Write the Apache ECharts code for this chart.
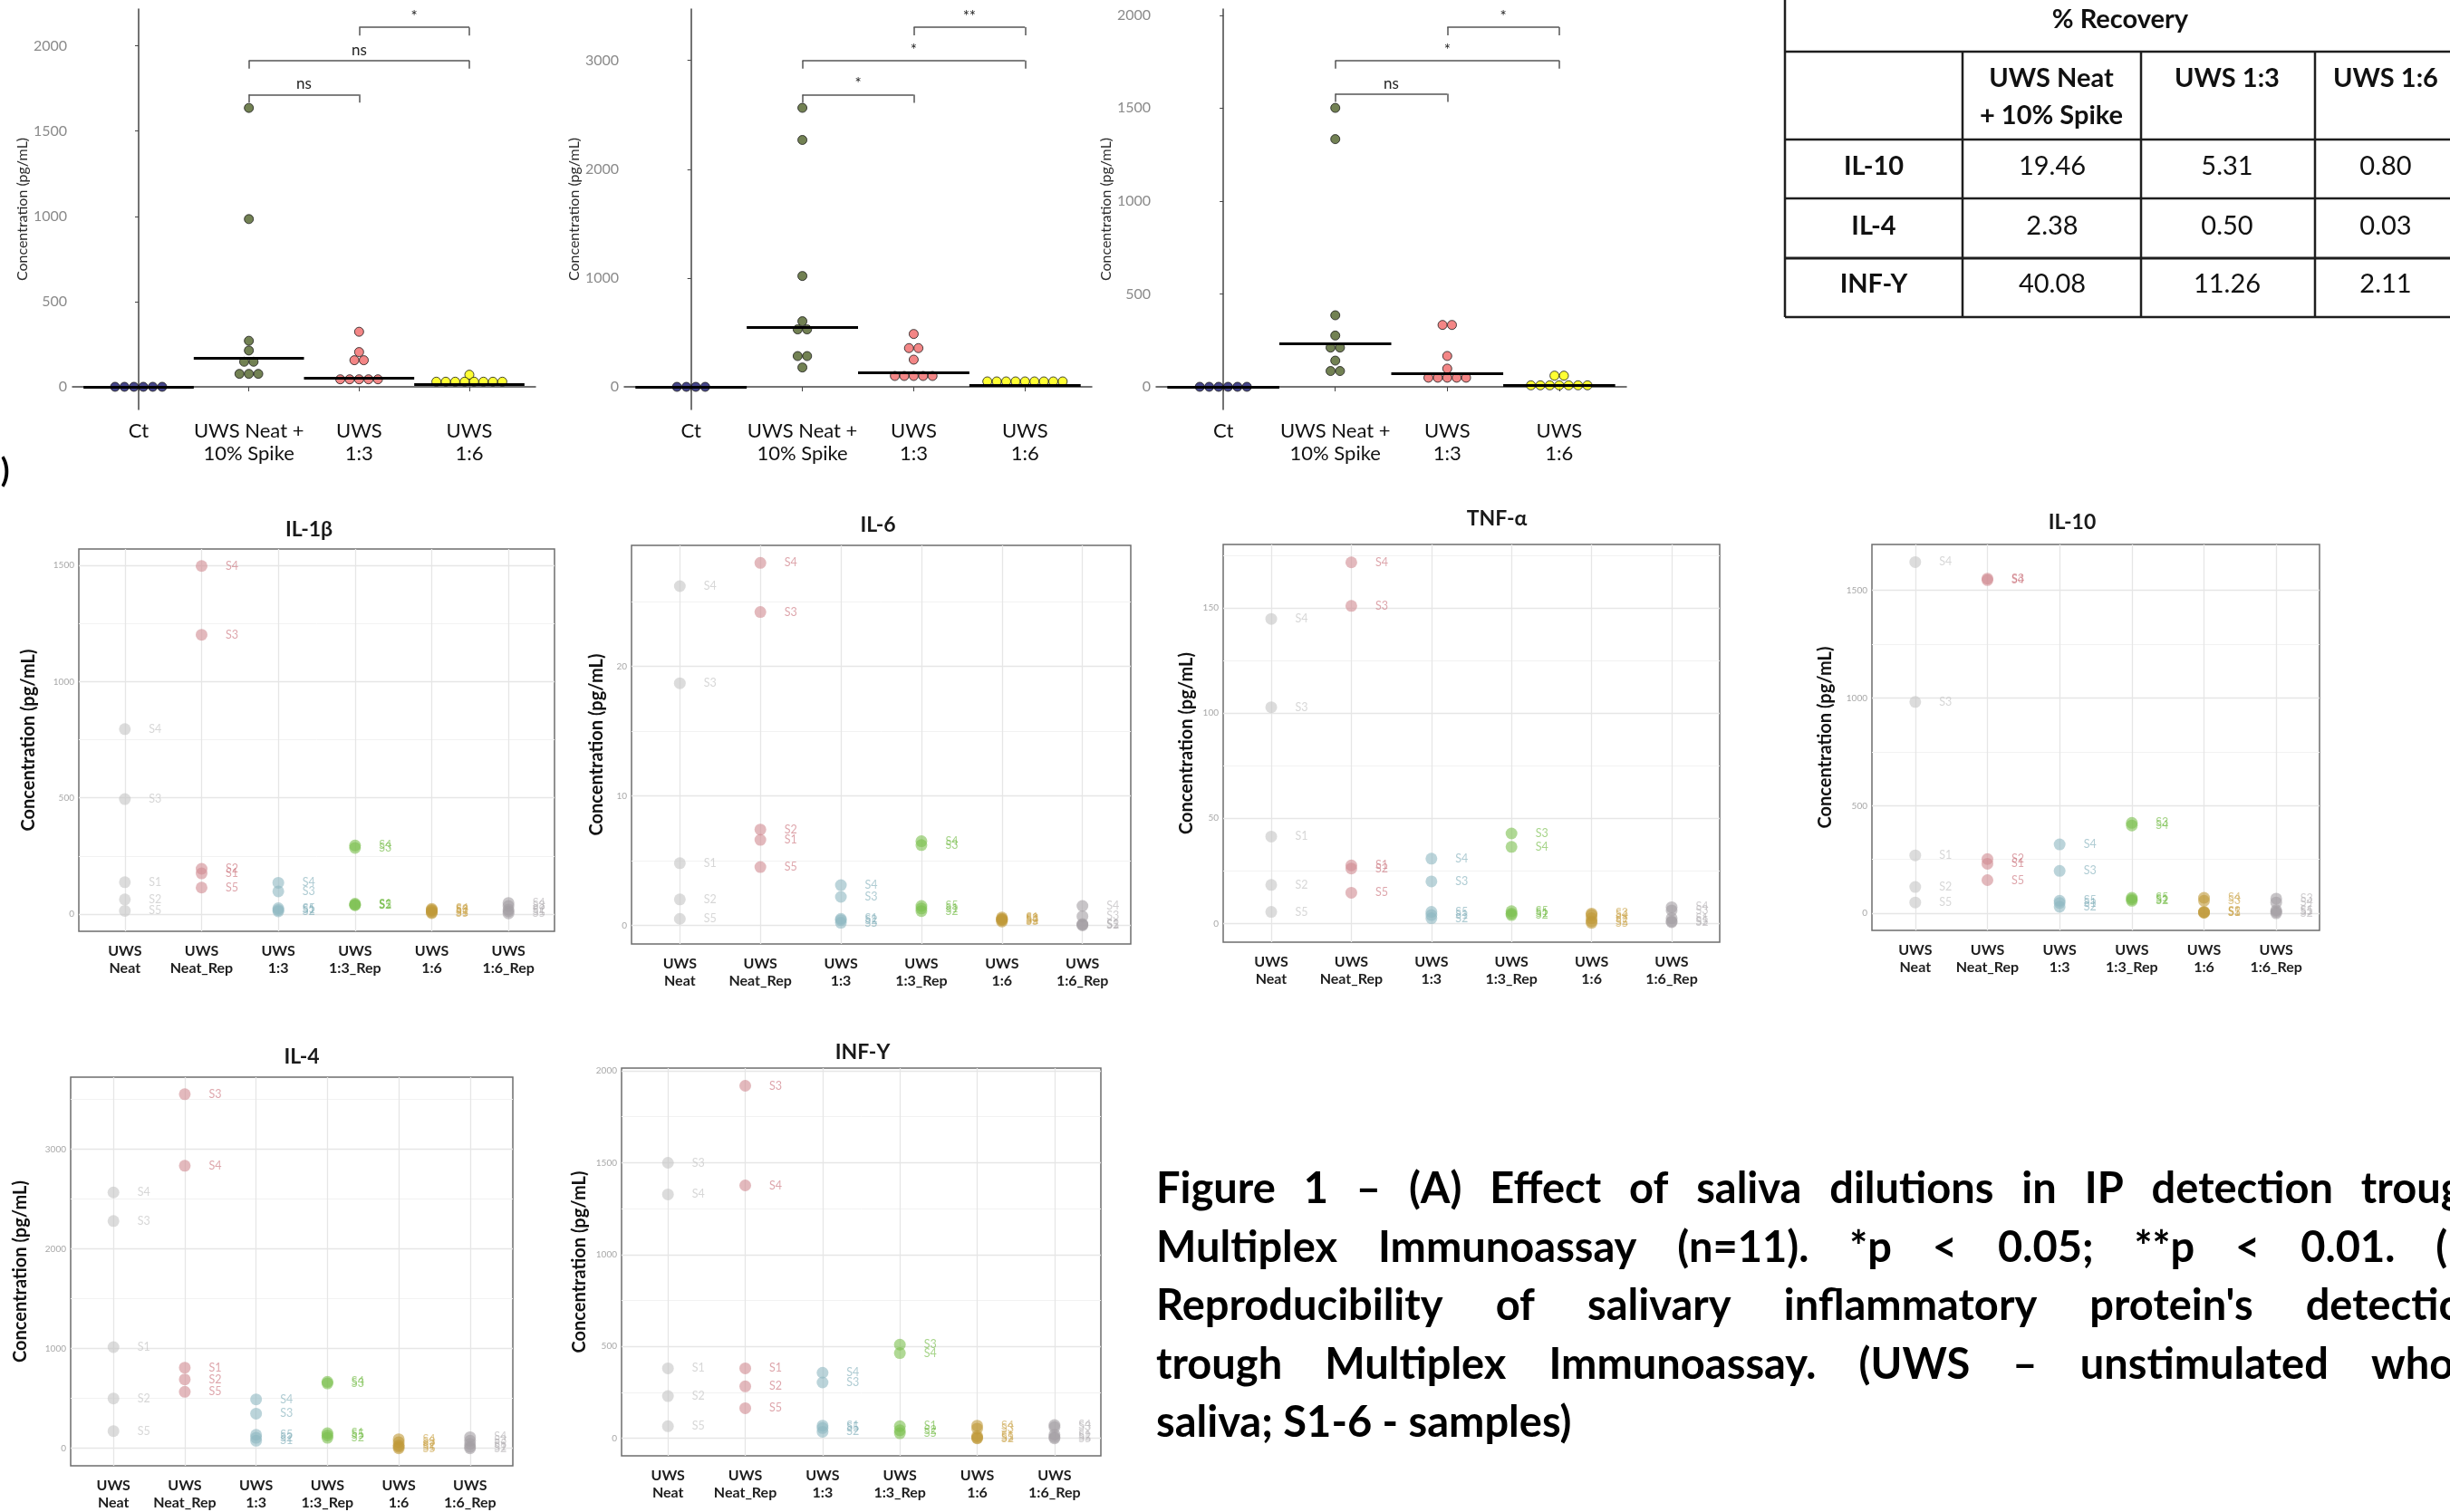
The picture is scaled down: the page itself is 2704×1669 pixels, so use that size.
<!DOCTYPE html>
<html>
<head>
<meta charset="utf-8">
<script src="https://cdn.jsdelivr.net/npm/echarts@6/dist/echarts.min.js"></script>
<style>
html, body { margin: 0; padding: 0; background: #fff; }
#fig { width: 2704px; height: 1669px; }
</style>
</head>
<body>
<div id="fig"></div>
<script>
var FONT = 'Lato, "Open Sans", sans-serif';

// ---------- (A) spike / dilution dot plots ----------
var catsA = ['Ct', 'UWS Neat +\n10% Spike', 'UWS\n1:3', 'UWS\n1:6'];
var dotColors = ['#16166e', '#4f6228', '#f06868', '#ffff00'];

// IL-10
var aIl10Ct = [0, 0, 0, 0, 0, 0];
var aIl10Neat = [1636, 984, 270, 213, 147, 147, 76, 76, 76];
var aIl10Dil3 = [323, 204, 156, 156, 44, 44, 44, 44, 44];
var aIl10Dil6 = [71, 30, 30, 30, 30, 30, 30, 30, 30];
var aIl10Median = [0, 168, 50, 14];
var aIl10Stats = [[1, 2, 1715, 'ns'], [1, 3, 1915, 'ns'], [2, 3, 2109, '*']];
var aIl10Ticks = [0, 500, 1000, 1500, 2000];

// IL-4
var aIl4Ct = [0, 0, 0, 0];
var aIl4Neat = [2564, 2269, 1019, 603, 528, 528, 283, 283, 178];
var aIl4Dil3 = [486, 356, 356, 250, 100, 100, 100, 100, 100];
var aIl4Dil6 = [50, 50, 50, 50, 50, 50, 50, 50, 50];
var aIl4Median = [0, 550, 133, 17];
var aIl4Stats = [[1, 2, 2686, '*'], [1, 3, 3000, '*'], [2, 3, 3306, '**']];
var aIl4Ticks = [0, 1000, 2000, 3000];

// INF-Y
var aInfCt = [0, 0, 0, 0, 0, 0];
var aInfNeat = [1501, 1333, 385, 276, 211, 211, 141, 85, 85];
var aInfDil3 = [333, 333, 166, 98, 49, 49, 49, 49, 49];
var aInfDil6 = [60, 60, 8, 8, 8, 8, 8, 8, 8];
var aInfMedian = [0, 231, 72, 10];
var aInfStats = [[1, 2, 1577, 'ns'], [1, 3, 1756, '*'], [2, 3, 1935, '*']];
var aInfTicks = [0, 500, 1000, 1500, 2000];

// ---------- (B) reproducibility ----------
var catsB = ['UWS\nNeat', 'UWS\nNeat_Rep', 'UWS\n1:3', 'UWS\n1:3_Rep', 'UWS\n1:6', 'UWS\n1:6_Rep'];
var samples = ['S1', 'S2', 'S3', 'S4', 'S5'];
var groupColors = ['#c4c4c4', '#d08a91', '#8db8c1', '#7cc04f', '#bf9a38', '#a39fa3'];
var labelColors = ['#bdbdbd', '#c86a74', '#7aaab5', '#6ab83a', '#c9a245', '#b3afb3'];

// rows: Neat, Neat_Rep, 1:3, 1:3_Rep, 1:6, 1:6_Rep ; cols: S1..S5
var il1b = [
  [137, 63, 495, 796, 14],
  [175, 195, 1202, 1498, 114],
  [18, 12, 98, 135, 25],
  [45, 40, 285, 295, 38],
  [8, 14, 18, 22, 4],
  [12, 20, 35, 48, 3]
];
var il6 = [
  [4.8, 2.0, 18.7, 26.2, 0.5],
  [6.6, 7.4, 24.2, 28.0, 4.5],
  [0.5, 0.4, 2.2, 3.1, 0.2],
  [1.3, 1.1, 6.2, 6.5, 1.5],
  [0.6, 0.4, 0.5, 0.45, 0.3],
  [0.1, 0.05, 0.7, 1.5, 0]
];
var tnfa = [
  [41.3, 18.3, 102.8, 144.8, 5.5],
  [27.6, 26.1, 151, 171.7, 14.6],
  [4, 2.5, 20, 30.8, 5.5],
  [4.7, 4, 42.8, 36.4, 5.8],
  [2.5, 1, 4.7, 4, 0.3],
  [2.5, 0.6, 6.2, 7.7, 1]
];
var il10 = [
  [269, 122, 982, 1632, 50],
  [230, 252, 1555, 1548, 154],
  [48, 30, 197, 320, 58],
  [65, 58, 420, 408, 72],
  [3, 7, 58, 72, 4],
  [14, 0, 68, 50, 7]
];
var il4 = [
  [1015, 500, 2279, 2566, 173],
  [809, 691, 3551, 2833, 567],
  [76, 106, 348, 491, 136],
  [151, 106, 651, 667, 130],
  [15, 30, 61, 91, 0],
  [15, 0, 76, 112, 45]
];
var infg = [
  [381, 230, 1499, 1327, 66],
  [381, 283, 1918, 1376, 164],
  [69, 36, 304, 357, 56],
  [66, 44, 510, 464, 28],
  [12, 0, 53, 69, 3],
  [20, 7, 61, 72, 0]
];

var il1bTicks = [0, 500, 1000, 1500], il1bMinor = [250, 750, 1250];
var il6Ticks = [0, 10, 20], il6Minor = [5, 15, 25];
var tnfaTicks = [0, 50, 100, 150], tnfaMinor = [25, 75, 125, 175];
var il10Ticks = [0, 500, 1000, 1500], il10Minor = [250, 750, 1250];
var il4Ticks = [0, 1000, 2000, 3000], il4Minor = [500, 1500, 2500, 3500];
var infgTicks = [0, 500, 1000, 1500, 2000], infgMinor = [250, 750, 1250, 1750];

// ---------- table ----------
var tableRows = ['IL-10', 'IL-4', 'INF-Y'];
var recNeat = [19.46, 2.38, 40.08];
var recDil3 = [5.31, 0.50, 11.26];
var recDil6 = [0.80, 0.03, 2.11];

// ---------- caption ----------
var capLines = [
  'Figure 1 \u2013 (A) Effect of saliva dilutions in IP detection trough',
  'Multiplex Immunoassay (n=11). *p < 0.05; **p < 0.01. (B)',
  "Reproducibility of salivary inflammatory protein's detection",
  'trough Multiplex Immunoassay. (UWS \u2013 unstimulated whole',
  'saliva; S1-6 - samples)'
];

// ---------- layout ----------
var panelsA = [
  { grid: { left: 80, top: 10, width: 511, height: 442 }, y: [-133, 2216], ticks: aIl10Ticks,
    groups: [aIl10Ct, aIl10Neat, aIl10Dil3, aIl10Dil6], median: aIl10Median, stats: aIl10Stats },
  { grid: { left: 689, top: 10, width: 516, height: 442 }, y: [-208, 3472], ticks: aIl4Ticks,
    groups: [aIl4Ct, aIl4Neat, aIl4Dil3, aIl4Dil6], median: aIl4Median, stats: aIl4Stats },
  { grid: { left: 1276, top: 10, width: 519, height: 442 }, y: [-122, 2033], ticks: aInfTicks,
    groups: [aInfCt, aInfNeat, aInfDil3, aInfDil6], median: aInfMedian, stats: aInfStats }
];

var panelsB = [
  { title: 'IL-1\u03b2', tx: 341, ty: 585, data: il1b, ticks: il1bTicks, minor: il1bMinor,
    grid: { left: 87, top: 606, width: 525, height: 422 }, y: [-74, 1571], gap: 45 },
  { title: 'IL-6', tx: 969, ty: 580, data: il6, ticks: il6Ticks, minor: il6Minor,
    grid: { left: 697, top: 602, width: 551, height: 440 }, y: [-1.44, 29.35], gap: 28 },
  { title: 'TNF-\u03b1', tx: 1652, ty: 573, data: tnfa, ticks: tnfaTicks, minor: tnfaMinor,
    grid: { left: 1350, top: 601, width: 548, height: 439 }, y: [-8.9, 180.2], gap: 30 },
  { title: 'IL-10', tx: 2287, ty: 577, data: il10, ticks: il10Ticks, minor: il10Minor,
    grid: { left: 2066, top: 601, width: 494, height: 426 }, y: [-79.6, 1713.6], gap: 41 },
  { title: 'IL-4', tx: 333, ty: 1167, data: il4, ticks: il4Ticks, minor: il4Minor,
    grid: { left: 78, top: 1189, width: 488, height: 429 }, y: [-175, 3722], gap: 45 },
  { title: 'INF-\u03a5', tx: 952, ty: 1162, data: infg, ticks: infgTicks, minor: infgMinor,
    grid: { left: 686, top: 1179, width: 529, height: 428 }, y: [-95, 2014], gap: 36 }
];

var grids = [], xAxes = [], yAxes = [], series = [], graphics = [];

function plain(v) { return String(v); }

// dotplot: equal values sit side by side, centred on the category
function stackDots(vals, c) {
  var count = {}, used = {};
  vals.forEach(function (v) { count[v] = (count[v] || 0) + 1; });
  return vals.map(function (v) {
    var n = count[v];
    var i = used[v] = (used[v] || 0) + 1;
    return { value: [c, v], symbolOffset: [((i - 1) - (n - 1) / 2) * 10.4, 0] };
  });
}

function text(x, y, str, font, align, color) {
  graphics.push({
    type: 'text', x: x, y: y, z: 10, silent: true,
    style: { text: str, font: font, fill: color || '#111',
      textAlign: align || 'left', align: align || 'left',
      textVerticalAlign: 'middle', verticalAlign: 'middle' }
  });
}

function line(x1, y1, x2, y2, w) {
  graphics.push({
    type: 'line', z: 10, silent: true,
    shape: { x1: x1, y1: y1, x2: x2, y2: y2 },
    style: { stroke: '#1e1e1e', lineWidth: w || 2.5 }
  });
}

// panel A
panelsA.forEach(function (p, k) {
  grids.push(Object.assign({ show: false }, p.grid));
  xAxes.push({
    type: 'value', gridIndex: k, min: -0.6, max: 3.6,
    axisLine: { show: true, lineStyle: { color: '#444', width: 1.5 } },
    axisTick: { show: true, customValues: [0, 1, 2, 3], length: 5, lineStyle: { color: '#444' } },
    axisLabel: { customValues: [0, 1, 2, 3], formatter: function (v) { return catsA[v]; },
      fontSize: 22, lineHeight: 25, color: '#111', margin: 11, fontFamily: FONT },
    splitLine: { show: false }
  });
  yAxes.push({
    type: 'value', gridIndex: k, min: p.y[0], max: p.y[1],
    axisLine: { show: true, lineStyle: { color: '#444', width: 1.5 } },
    axisTick: { show: true, customValues: p.ticks, length: 4, lineStyle: { color: '#444' } },
    axisLabel: { customValues: p.ticks, formatter: plain, fontSize: 16, color: '#8a8a8a', margin: 6, fontFamily: FONT },
    splitLine: { show: false },
    name: 'Concentration (pg/mL)', nameLocation: 'middle', nameGap: 43,
    nameTextStyle: { fontSize: 16, color: '#2a2a2a', fontFamily: FONT }
  });

  var marks = [];
  p.median.forEach(function (m, c) {
    marks.push([{ coord: [c - 0.5, m], lineStyle: { color: '#000', width: 3, type: 'solid' } }, { coord: [c + 0.5, m] }]);
  });
  var tick = 9 * (p.y[1] - p.y[0]) / p.grid.height;
  var st = { color: '#555', width: 1.5, type: 'solid' };
  p.stats.forEach(function (s) {
    marks.push([{ coord: [s[0], s[2] - tick], lineStyle: st }, { coord: [s[0], s[2]] }]);
    marks.push([{ coord: [s[0], s[2]], lineStyle: st,
      label: { show: true, position: 'insideMiddleTop', distance: 3, formatter: s[3],
        fontSize: 17, color: '#222', fontFamily: FONT } },
      { coord: [s[1], s[2]] }]);
    marks.push([{ coord: [s[1], s[2]], lineStyle: st }, { coord: [s[1], s[2] - tick] }]);
  });

  p.groups.forEach(function (vals, c) {
    var s = {
      type: 'scatter', xAxisIndex: k, yAxisIndex: k, z: 3, symbolSize: 10,
      itemStyle: { color: dotColors[c], borderColor: '#1a1a1a', borderWidth: 1 },
      emphasis: { disabled: true },
      data: stackDots(vals, c)
    };
    if (c === 0) {
      s.markLine = { silent: true, z: 5, symbol: ['none', 'none'], animation: false,
        label: { show: false }, emphasis: { disabled: true }, data: marks };
    }
    series.push(s);
  });
});

// panel B
panelsB.forEach(function (p, j) {
  var k = panelsA.length + j;
  grids.push(Object.assign({ show: true, borderColor: '#6e6e6e', borderWidth: 1.5, backgroundColor: '#fff' }, p.grid));
  xAxes.push({
    type: 'value', gridIndex: k, min: -0.6, max: 5.6,
    axisLine: { show: false },
    axisTick: { show: true, customValues: [0, 1, 2, 3, 4, 5], length: 4, lineStyle: { color: '#8a8a8a' } },
    axisLabel: { customValues: [0, 1, 2, 3, 4, 5], formatter: function (v) { return catsB[v]; },
      fontSize: 16, fontWeight: 'bold', lineHeight: 19, color: '#1e1e1e', margin: 12, fontFamily: FONT },
    splitLine: { show: false }
  });
  yAxes.push({
    type: 'value', gridIndex: k, min: p.y[0], max: p.y[1],
    axisLine: { show: false },
    axisTick: { show: false },
    axisLabel: { customValues: p.ticks, formatter: plain, fontSize: 10, color: '#a8a8a8', margin: 5, fontFamily: FONT },
    splitLine: { show: false },
    name: 'Concentration (pg/mL)', nameLocation: 'middle', nameGap: p.gap,
    nameTextStyle: { fontSize: 20, fontWeight: 'bold', color: '#111', fontFamily: FONT }
  });

  var gl = [];
  p.ticks.forEach(function (v) { gl.push({ yAxis: v, lineStyle: { color: '#e6e6e6', width: 1.3, type: 'solid' } }); });
  p.minor.forEach(function (v) { gl.push({ yAxis: v, lineStyle: { color: '#f2f2f2', width: 1, type: 'solid' } }); });
  [0, 1, 2, 3, 4, 5].forEach(function (c) { gl.push({ xAxis: c, lineStyle: { color: '#e6e6e6', width: 1.3, type: 'solid' } }); });

  p.data.forEach(function (vals, g) {
    var s = {
      type: 'scatter', xAxisIndex: k, yAxisIndex: k, z: 3, symbolSize: 13,
      itemStyle: { color: groupColors[g], opacity: 0.6 },
      label: { show: true, formatter: '{b}', position: 'right', distance: 20,
        fontSize: 12.5, color: labelColors[g], fontFamily: FONT },
      emphasis: { disabled: true },
      data: vals.map(function (v, i) { return { name: samples[i], value: [g, v] }; })
    };
    if (g === 0) {
      s.markLine = { silent: true, z: 1, symbol: ['none', 'none'], animation: false,
        label: { show: false }, emphasis: { disabled: true }, data: gl };
    }
    series.push(s);
  });

  text(p.tx, p.ty, p.title, 'bold 23px ' + FONT, 'center', '#1a1a1a');
});

// "B)" panel tag, cut by the left edge
text(-23, 520, 'B)', 'bold 36px ' + FONT, 'left', '#000');

// % recovery table
var colX = [1970, 2166, 2363, 2555, 2712];
var rowY = [57, 154, 219, 285, 350];
line(colX[0], 0, colX[0], rowY[4]);
colX.slice(1, 4).forEach(function (x) { line(x, rowY[0], x, rowY[4]); });
rowY.forEach(function (y, i) { line(colX[0], y, 2704, y, i === 3 ? 3.2 : 2.5); });
var tb = 'bold 29px ' + FONT, tr = '29px ' + FONT;
text(2340, 22, '% Recovery', tb, 'center');
text(2264, 87, 'UWS Neat', tb, 'center');
text(2264, 128, '+ 10% Spike', tb, 'center');
text(2458, 87, 'UWS 1:3', tb, 'center');
text(2633, 87, 'UWS 1:6', tb, 'center');
var rowMid = [184, 250, 314];
tableRows.forEach(function (r, i) {
  text(2068, rowMid[i], r, tb, 'center');
  text(2265, rowMid[i], recNeat[i].toFixed(2), tr, 'center');
  text(2458, rowMid[i], recDil3[i].toFixed(2), tr, 'center');
  text(2633, rowMid[i], recDil6[i].toFixed(2), tr, 'center');
});

// justified caption
var capFont = 'bold 47px ' + FONT;
var ctx = document.createElement('canvas').getContext('2d');
ctx.font = capFont;
var capLeft = 1276, capRight = 2745, capTop = 1313, capLead = 64.5;
capLines.forEach(function (ln, r) {
  var words = ln.split(' ');
  var widths = words.map(function (w) { return ctx.measureText(w).width; });
  var total = widths.reduce(function (a, b) { return a + b; }, 0);
  var gap = r === capLines.length - 1 ? ctx.measureText(' ').width
    : Math.max(10, (capRight - capLeft - total) / (words.length - 1));
  var x = capLeft;
  words.forEach(function (w, i) {
    text(x, capTop + r * capLead, w, capFont, 'left', '#000');
    x += widths[i] + gap;
  });
});

var chart = echarts.init(document.getElementById('fig'));
chart.setOption({
  animation: false,
  backgroundColor: '#fff',
  textStyle: { fontFamily: FONT },
  grid: grids,
  xAxis: xAxes,
  yAxis: yAxes,
  series: series,
  graphic: graphics
});
</script>
</body>
</html>
